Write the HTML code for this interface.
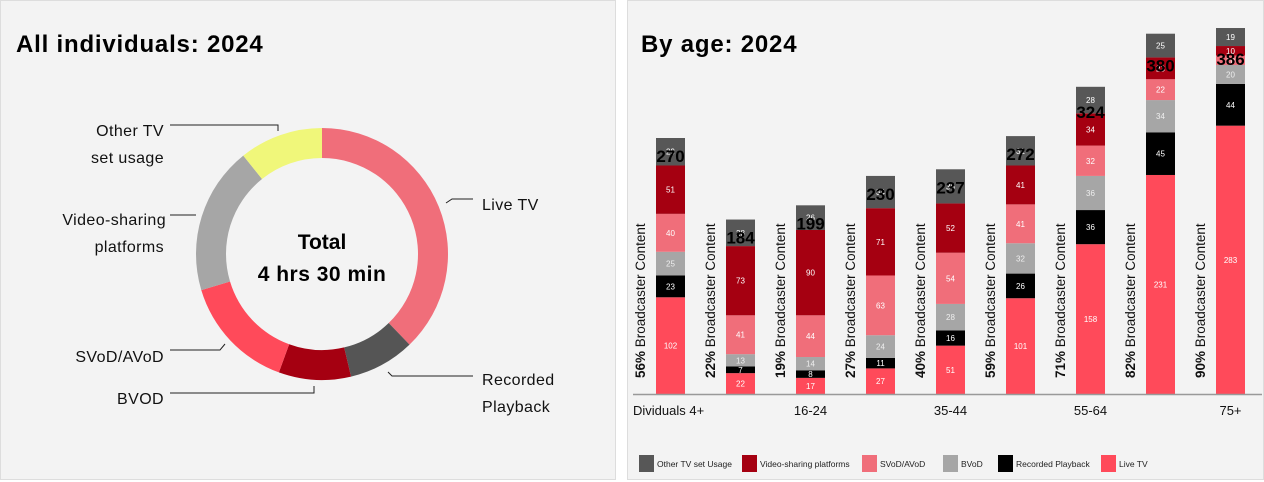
<!DOCTYPE html>
<html><head><meta charset="utf-8"><style>
body{margin:0;width:1264px;height:482px;background:#fff;font-family:"Liberation Sans",sans-serif;overflow:hidden;position:relative}
.panel{position:absolute;top:0;height:480px;background:#f3f3f3;border:1px solid #ddd;box-sizing:border-box}
</style></head><body>
<div class="panel" style="left:0;width:616px"></div>
<div class="panel" style="left:627px;width:637px"></div>
<div style="position:absolute;left:16px;top:31px;font-size:24px;font-weight:bold;letter-spacing:0.8px">All individuals: 2024</div>
<div style="position:absolute;left:641px;top:31px;font-size:24px;font-weight:bold;letter-spacing:0.8px">By age: 2024</div>
<svg id="donut" width="616" height="482" style="position:absolute;left:0;top:0"></svg>
<svg id="bars" width="1264" height="482" style="position:absolute;left:0;top:0"></svg>
<script>
const donutLabels=["Live TV","Recorded Playback","BVOD","SVoD/AVoD","Video-sharing platforms","Other TV set usage"];
const donutValues=[102,23,25,40,51,29];
const donutColors=["#f06e7a","#555555","#a50011","#ff4a5a","#a6a6a6","#f0f77a"];
const NS="http://www.w3.org/2000/svg";
function mk(p,tag,at){const e=document.createElementNS(NS,tag);for(const k in at)e.setAttribute(k,at[k]);p.appendChild(e);return e;}
const d=document.getElementById('donut');
const cx=322,cy=254,ro=126,ri=96;
const tot=donutValues.reduce((a,b)=>a+b,0);
let a0=0;
function pt(r,a){return [cx+r*Math.sin(a),cy-r*Math.cos(a)];}
donutValues.forEach((v,i)=>{
 const a1=a0+v/tot*2*Math.PI;const lg=(a1-a0)>Math.PI?1:0;
 const p1=pt(ro,a0),p2=pt(ro,a1),p3=pt(ri,a1),p4=pt(ri,a0);
 const s=mk(d,'path',{d:`M${p1}A${ro},${ro} 0 ${lg} 1 ${p2}L${p3}A${ri},${ri} 0 ${lg} 0 ${p4}Z`,fill:donutColors[i]});
 
 
 a0=a1;
});
const c1=mk(d,'text',{x:cx,y:249,'text-anchor':'middle','font-size':21,'font-weight':'bold'});c1.textContent='Total';


const c2=mk(d,'text',{x:cx,y:281,'text-anchor':'middle','font-size':21,'font-weight':'bold','letter-spacing':0.5});c2.textContent='4 hrs 30 min';


const leaders=["M170,125H278V131","M446,203L452,199H473","M170,215H196","M170,350H220L225,344","M170,393H314V386","M388,372L392,376H473"];
leaders.forEach(l=>{const e=mk(d,'path',{d:l,stroke:'#222',fill:'none','stroke-width':1});

});
const dl=[["Other TV",164,136,"end"],["set usage",164,163,"end"],["Live TV",482,210,"start"],["Video-sharing",166,225,"end"],["platforms",164,252,"end"],["SVoD/AVoD",164,362,"end"],["BVOD",164,404,"end"],["Recorded",482,385,"start"],["Playback",482,412,"start"]];
dl.forEach(t=>{const e=mk(d,'text',{x:t[1],y:t[2],'text-anchor':t[3],'font-size':16,'letter-spacing':0.4,fill:'#111'});e.textContent=t[0];

});

// Bar chart
const categories=["Individuals 4+","4-15","16-24","25-34","35-44","45-54","55-64","65-74","75+"];
const liveTV=[102,22,17,27,51,101,158,231,283];
const recorded=[23,7,8,11,16,26,36,45,44];
const bvod=[25,13,14,24,28,32,36,34,20];
const svod=[40,41,44,63,54,41,32,22,10];
const vsp=[51,73,90,71,52,41,34,23,10];
const other=[29,28,26,34,36,31,28,25,19];
const totals=[270,184,199,230,237,272,324,380,386];
const broadcasterPct=["56%","22%","19%","27%","40%","59%","71%","82%","90%"];
const xLabels=["Dividuals 4+","","16-24","","35-44","","55-64","","75+"];
const series=[liveTV,recorded,bvod,svod,vsp,other];
const sNames=["live-tv","recorded-playback","bvod","svod-avod","video-sharing","other-tv"];
const sColors=["#ff4a5a","#000000","#a6a6a6","#f06e7a","#a50011","#575757"];
const legNames=["Other TV set Usage","Video-sharing platforms","SVoD/AVoD","BVoD","Recorded Playback","Live TV"];
const legColors=["#575757","#a50011","#f06e7a","#a6a6a6","#000000","#ff4a5a"];
const b=document.getElementById('bars');
const base=394,k=256/270,bw=29;
const X=i=>656+i*70, Y=v=>base-v*k;
categories.forEach((c,i)=>{
 let acc=0;
 series.forEach((s,j)=>{
  const y0=Y(acc),y1=Y(acc+s[i]);
  const r=mk(b,'rect',{x:X(i),y:y1,width:bw,height:y0-y1,fill:sColors[j]});
  
  
  const tx=mk(b,'text',{x:X(i)+bw/2,y:(y0+y1)/2+3,'text-anchor':'middle','font-size':8,fill:j==2?'#eee':'#fff'});
  tx.textContent=s[i];
  
  
  acc+=s[i];
 });
 const tt=mk(b,'text',{x:X(i)+bw/2,y:Y(totals[i])+24,'text-anchor':'middle','font-size':17,'font-weight':'bold',fill:'#000'});
 if(i>=6) tt.setAttribute('y',Y(totals[i])+(i==6?31:i==7?38:37));
 tt.textContent=totals[i];
 
 
 const g=mk(b,'text',{transform:`translate(${X(i)-11},378) rotate(-90)`,'font-size':13.5,fill:'#111'});
 const ts=mk(g,'tspan',{'font-weight':'bold'});ts.textContent=broadcasterPct[i];
 const ts2=mk(g,'tspan',{});ts2.textContent=' Broadcaster Content';
 
 
 if(xLabels[i]){const xl=mk(b,'text',{x:i==0?633:X(i)+bw/2,y:415,'text-anchor':i==0?'start':'middle','font-size':13,fill:'#111'});xl.textContent=xLabels[i];
 
 }
});
const ax=mk(b,'line',{x1:633,x2:1262,y1:base+0.5,y2:base+0.5,stroke:'#999','stroke-width':1.5});


const lx=[639,742,862,943,998,1101];
legNames.forEach((n,i)=>{
 const r=mk(b,'rect',{x:lx[i],y:455,width:15,height:17,fill:legColors[i]});
 
 
 const t=mk(b,'text',{x:lx[i]+18,y:467,'font-size':8.5,fill:'#222'});t.textContent=n;
 
 
});
</script>
</body></html>
